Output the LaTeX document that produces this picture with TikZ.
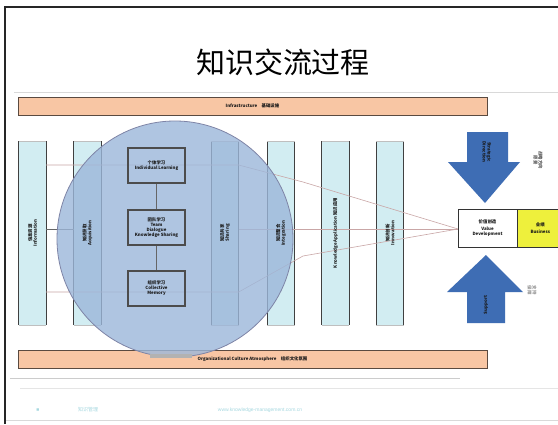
\documentclass[tikz,border=0pt]{standalone}
\usepackage{fontspec}
\setmainfont{Liberation Sans}
\newfontfamily\cjk{Noto Sans CJK SC}
\begin{document}
\begin{tikzpicture}[x=1pt,y=-1pt]
\definecolor{peach}{HTML}{F8C6A4}
\definecolor{barline}{HTML}{5A4A40}
\definecolor{colfill}{HTML}{D2EDF2}
\definecolor{circfill}{HTML}{9CB7DA}
\definecolor{circline}{HTML}{7E84A6}
\definecolor{arrblue}{HTML}{3E6DB4}
\definecolor{yel}{HTML}{EEF03C}
\definecolor{redline}{HTML}{C9A6A6}
\definecolor{foot}{HTML}{A6D8E0}
\tikzset{
  tinytext/.style={font=\cjk\fontsize{4.4}{5}\selectfont\bfseries, text=black!90, align=center},
  bar/.style={fill=peach, draw=barline, line width=1pt, minimum width=469pt, minimum height=18pt, inner sep=0pt},
  colbox/.style={fill=colfill, draw=none, minimum width=27pt, minimum height=183pt, inner sep=0pt},
  colside/.style={draw=black!75, line width=0.7pt},
  midbox/.style={draw=black!70, line width=1.1pt, minimum width=57pt, minimum height=35pt, inner sep=0pt, tinytext},
  link/.style={draw=redline, line width=0.6pt},
  darklink/.style={draw=black!60, line width=0.5pt},
  blockarrow/.style={fill=arrblue, draw=none},
}
\useasboundingbox (0,0) rectangle (558,424);
\fill[white] (0,0) rectangle (558,424);
% frame
\draw[black!85, line width=2pt] (5,424) -- (5,7) -- (558,7);
\draw[black!15, line width=0.6pt] (6,420) -- (558,420);
% title
\node (title) at (283,62) {\cjk\fontsize{29}{30}\selectfont 知识交流过程};
% faint frame lines
\draw[black!15] (14,92) -- (558,92);
\draw[black!20] (10,378) -- (460,378);
\draw[black!10] (20,388) -- (558,388);
% top and bottom bars
\node[bar] (top) at (252.5,106) {};
\node[tinytext] (toptext) at (top) {Infrastructure\quad 基础设施};
\node[bar] (bottom) at (252.5,359) {};
% columns
\foreach \n/\x in {c1/32.5, c2/87.5, c4/225, c5/281, c6/335.5, c7/390}{
  \node[colbox] (\n) at (\x,233) {};
  \draw[colside] (\n.north west) -- (\n.south west);
  \draw[colside] (\n.north east) -- (\n.south east);
  \draw[black!25] (\n.north west) -- (\n.north east);
  \draw[black!25] (\n.south west) -- (\n.south east);
}
% connector lines
\coordinate (vin) at (458,229);
\draw[link] (c1.east |- 0,165) -- (c4.east |- 0,165) -- (303,182) -- (vin);
\draw[link] (c1.east |- 0,292) -- (c4.east |- 0,292) -- (303,256) -- (vin);
\draw[link] (c4.east |- 0,229) -- (vin);
\draw[darklink] (c1.east |- 0,229) -- (c2.west |- 0,229);
% circle
\fill[circfill, opacity=0.8] (175,239) circle (118);
\draw[circline, line width=0.8pt] (175,239) circle (118);
% gray tab at bottom of circle
\fill[black!30] (150,354) rectangle (192,358);
\node[tinytext] (bottext) at (bottom) {Organizational Culture Atmosphere\quad 组织文化氛围};
% column texts
\node[tinytext, rotate=90] (t1) at (c1) {信息资源\\Information};
\node[tinytext, rotate=90] (t2) at (c2) {知识获取\\Acquisition};
\node[tinytext, rotate=90] (t4) at (c4) {知识共享\\Sharing};
\node[tinytext, rotate=90] (t5) at (c5) {知识整合\\Integration};
\node[tinytext, rotate=90] (t6) at (c6) {Knowledge Application 知识应用};
\node[tinytext, rotate=90] (t7) at (c7) {知识创新\\Innovation};
% middle boxes
\node[midbox] (m1) at (156.5,165.5) {个体学习\\Individual Learning};
\node[midbox] (m2) at (156.5,227.5) {团队学习\\Team\\Dialogue\\Knowledge Sharing};
\node[midbox] (m3) at (156.5,288.5) {组织学习\\Collective\\Memory};
\draw[darklink] (m1) -- (m2);
\draw[darklink] (m2) -- (m3);
% value box
\node[draw=black!80, line width=0.8pt, fill=white, minimum width=59pt, minimum height=38pt, inner sep=0pt, tinytext] (value) at (487.5,228) {价值创造\\[2pt]Value\\Development};
\node[fill=yel, draw=black!80, line width=0.8pt, minimum width=45pt, minimum height=38pt, inner sep=0pt, tinytext, anchor=west] (business) at (value.east) {业绩\\[2pt]Business};
% big arrows
\fill[blockarrow] (467,132) -- (508,132) -- (508,162) -- (520,162) -- (485,203) -- (448,162) -- (467,162) -- cycle;
\fill[blockarrow] (467,323) -- (505,323) -- (505,292) -- (523,292) -- (486,255) -- (447,292) -- (467,292) -- cycle;
\node[tinytext, rotate=-90] (downtext) at (487,152) {Strategic\\Direction};
\node[tinytext, rotate=90] (uptext) at (486,305) {Support};
\node[tinytext, text=black!65, rotate=-90] (sidetop) at (538,160) {战略方向\\愿景};
\node[tinytext, text=black!40, rotate=-90] (sidebot) at (532,290) {支持\\保障};
% footer
\node[font=\fontsize{5}{6}\selectfont, text=foot] (f1) at (38,410) {■};
\node[font=\cjk\fontsize{5}{6}\selectfont, text=foot] (f2) at (88,410) {知识管理};
\node[font=\fontsize{5}{6}\selectfont, text=foot] (f3) at (260,410) {www.knowledge-management.com.cn};
\end{tikzpicture}
\end{document}
